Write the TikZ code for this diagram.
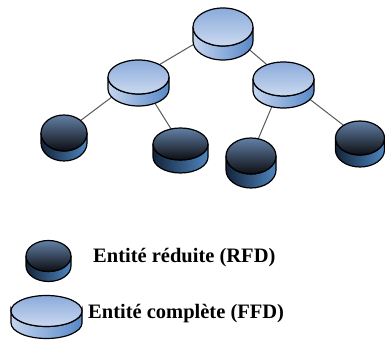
\documentclass[tikz,border=0pt]{standalone}
\usepackage{fontspec}
\setmainfont{Liberation Serif}
\usepackage{tikz}
\definecolor{clairhaut}{RGB}{139,171,219}
\definecolor{clairbas}{RGB}{203,217,240}
\definecolor{clairg}{RGB}{196,213,239}
\definecolor{claird}{RGB}{88,136,200}
\definecolor{sombrehaut}{RGB}{98,128,166}
\definecolor{sombrebas}{RGB}{12,13,17}
\definecolor{sombreg}{RGB}{20,36,58}
\definecolor{sombred}{RGB}{78,134,192}
\tikzstyle{lien}=[draw=black!65, line width=1pt]
\tikzstyle{clairface}=[top color=clairhaut, bottom color=clairbas, draw=black, line width=1.2pt]
\tikzstyle{clairflanc}=[left color=clairg, right color=claird, draw=black, line width=1.2pt]
\tikzstyle{sombreface}=[top color=sombrehaut, bottom color=sombrebas, draw=black, line width=1.2pt]
\tikzstyle{sombreflanc}=[left color=sombreg, right color=sombred, draw=black, line width=1.2pt]
\tikzstyle{legende}=[anchor=west, inner sep=0, font=\fontsize{20.5}{24}\selectfont\bfseries]
% #1 nom, #2 rx, #3 ry, #4 epaisseur, #5 clair/sombre
\newcommand{\entite}[5]{%
  \shadedraw[#5flanc] (#1) ++(-#2,0) -- ++(0,-#4)
    arc[start angle=180, end angle=360, x radius=#2, y radius=#3]
    -- ++(0,#4)
    arc[start angle=0, end angle=-180, x radius=#2, y radius=#3] -- cycle;
  \shadedraw[#5face] (#1) ellipse [x radius=#2, y radius=#3];
}

\begin{document}
\begin{tikzpicture}[x=1pt, y=1pt]
\useasboundingbox (0,0) rectangle (385,344);
\coordinate (r) at (223,317);
\coordinate (g) at (138.5,267);
\coordinate (d) at (283.5,265);
\coordinate (f1) at (64,211);
\coordinate (f2) at (180.5,200);
\coordinate (f3) at (251,188);
\coordinate (f4) at (360,206);
\coordinate (ls) at (48.5,88);
\coordinate (lc) at (46.5,33);
\path[lien]
  (r) edge (g)
  (r) edge (d)
  (g) edge (f1)
  (g) edge (f2)
  (d) edge (f3)
  (d) edge (f4);
\entite{r}{30}{19}{14}{clair}
\entite{g}{30.5}{17}{12}{clair}
\entite{d}{30.5}{17}{12}{clair}
\entite{f1}{23}{18}{10}{sombre}
\entite{f2}{27.5}{16}{13}{sombre}
\entite{f3}{25}{18}{14}{sombre}
\entite{f4}{24.5}{17}{12}{sombre}
%legende
\entite{ls}{22.5}{15.5}{10}{sombre}
\entite{lc}{35.5}{15.5}{12}{clair}
\node[legende] (tls) at (93,86) {Entité réduite (RFD)};
\node[legende] (tlc) at (88,30) {Entité complète (FFD)};
\end{tikzpicture}
\end{document}
